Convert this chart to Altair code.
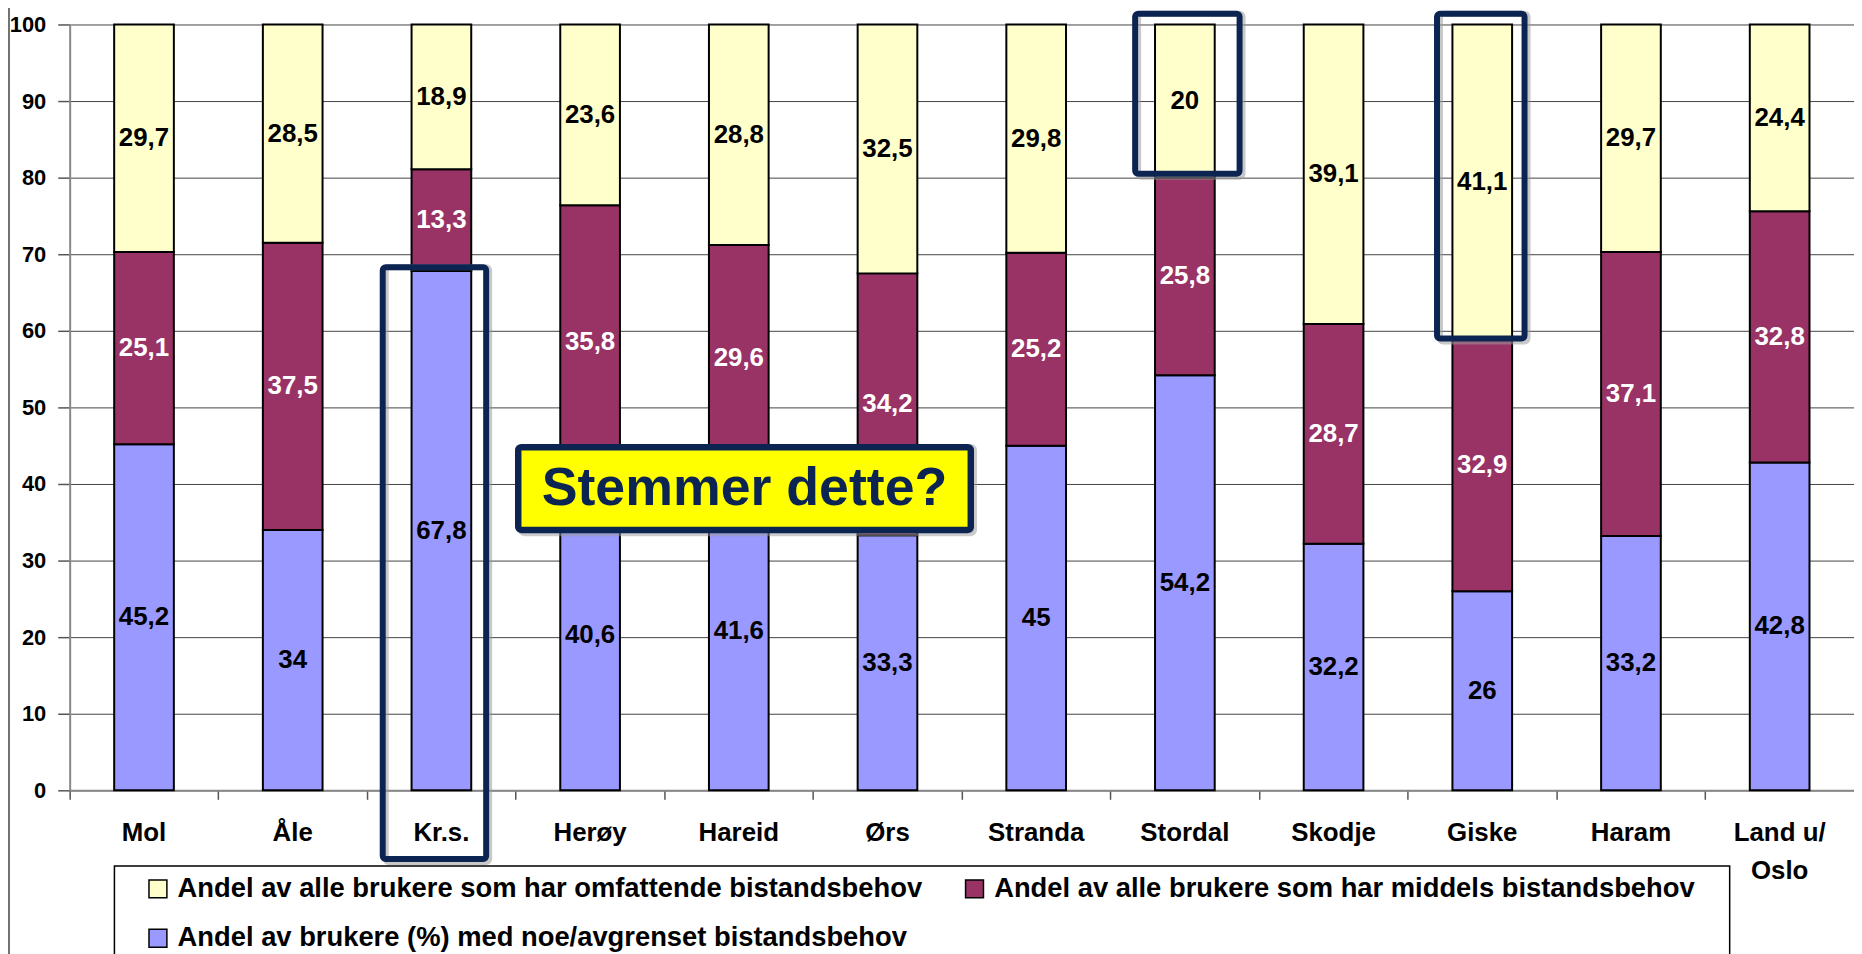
import altair as alt
import pandas as pd

# ---------------- data ----------------
categories = ["Mol", "Åle", "Kr.s.", "Herøy", "Hareid", "Ørs", "Stranda",
              "Stordal", "Skodje", "Giske", "Haram", "Land u/ Oslo"]
x_labels = ["Mol", "Åle", "Kr.s.", "Herøy", "Hareid", "Ørs", "Stranda",
            "Stordal", "Skodje", "Giske", "Haram", "Land u/\nOslo"]
noe = [45.2, 34, 67.8, 40.6, 41.6, 33.3, 45, 54.2, 32.2, 26, 33.2, 42.8]
middels = [25.1, 37.5, 13.3, 35.8, 29.6, 34.2, 25.2, 25.8, 28.7, 32.9, 37.1, 32.8]
omfattende = [29.7, 28.5, 18.9, 23.6, 28.8, 32.5, 29.8, 20, 39.1, 41.1, 29.7, 24.4]

series_names = [
    "Andel av alle brukere som har omfattende bistandsbehov",
    "Andel av alle brukere som har middels bistandsbehov",
    "Andel av brukere (%) med noe/avgrenset bistandsbehov",
]
series_colors = ["#FFFFCC", "#993366", "#9999FF"]
label_colors = ["black", "white", "black"]
y_ticks = [0, 10, 20, 30, 40, 50, 60, 70, 80, 90, 100]

# highlight boxes (category, lower value, upper value, width px, x shift px)
box_cats = ["Kr.s.", "Stordal", "Giske"]
box_lo = [-8.96, 80.5, 59.0]
box_hi = [68.3, 101.4, 101.4]
box_w = [104, 105, 88]
box_dx = [-7, 2.5, -1.5]

callout_text = "Stemmer dette?"
callout_cat = "Hareid"
callout_lo, callout_hi, callout_mid = 34.0, 44.8, 39.4

# ---------------- styling ----------------
FONT = "Liberation Sans, Arial, sans-serif"
NAVY = "#0C2452"
W, H = 1794, 770

# ---------------- build table ----------------
rows = []
stack_order = [(2, noe), (1, middels), (0, omfattende)]  # bottom -> top
for i, cat in enumerate(categories):
    base = 0.0
    for s_idx, vals in stack_order:
        v = vals[i]
        rows.append({
            "cat": cat,
            "series": series_names[s_idx],
            "y0": base,
            "y1": base + v,
            "mid": base + v / 2,
            "label": f"{v:g}".replace(".", ","),
            "tcolor": label_colors[s_idx],
        })
        base += v
df = pd.DataFrame(rows)

x_scale = alt.Scale(domain=categories, paddingInner=0, paddingOuter=0)
y_scale = alt.Scale(domain=[0, 100], nice=False, zero=False)

x_axis = alt.Axis(title=None, labels=False, bandPosition=0, ticks=True,
                  tickSize=9, tickColor="#555", tickWidth=1.5,
                  domainColor="#888", domainWidth=2, grid=False)
y_axis = alt.Axis(title=None, values=y_ticks, labelFont=FONT,
                  labelFontSize=22, labelFontWeight="bold",
                  labelColor="black", labelPadding=12, tickSize=12,
                  tickColor="#555", tickWidth=1.5,
                  domainColor="#888", domainWidth=2,
                  grid=True, gridColor="#444", gridWidth=1)


def X():
    return alt.X("cat:N", scale=x_scale, sort=categories, axis=x_axis)


def Y(field):
    return alt.Y(field, scale=y_scale, axis=y_axis)


bars = alt.Chart(df).mark_bar(width=60, stroke="black", strokeWidth=2).encode(
    x=X(),
    y=Y("y0:Q"),
    y2="y1:Q",
    color=alt.Color(
        "series:N",
        scale=alt.Scale(domain=series_names, range=series_colors),
        legend=alt.Legend(
            title=None, orient="none", legendX=75, legendY=855, columns=2,
            direction="horizontal",
            columnPadding=38, rowPadding=21, symbolType="square",
            symbolSize=324, symbolStrokeColor="black", symbolStrokeWidth=1.5,
            symbolOpacity=1, labelFont=FONT, labelFontSize=27.5,
            labelFontWeight="bold", labelColor="black", labelLimit=1200,
            labelOffset=6, padding=0,
        ),
    ),
)

bar_labels = alt.Chart(df).mark_text(
    font=FONT, fontSize=26, fontWeight="bold", baseline="middle"
).encode(
    x=X(),
    y=Y("mid:Q"),
    text="label:N",
    color=alt.Color("tcolor:N", scale=None),
)

xlab_df = pd.DataFrame({"cat": categories, "lab": x_labels})
x_text = alt.Chart(xlab_df).mark_text(
    font=FONT, fontSize=26, fontWeight="bold", baseline="alphabetic",
    lineBreak="\n", lineHeight=38, color="black"
).encode(x=X(), y=alt.value(H + 51), text="lab:N")

layers = [bars, bar_labels, x_text]

for c, lo, hi, w, dx in zip(box_cats, box_lo, box_hi, box_w, box_dx):
    bdf = pd.DataFrame({"cat": [c], "y0": [lo], "y1": [hi]})
    shadow = alt.Chart(bdf).mark_bar(
        width=w, xOffset=dx + 3, yOffset=3, fillOpacity=0, stroke="#9a9a9a",
        strokeOpacity=0.55, strokeWidth=6, cornerRadius=3
    ).encode(x=X(), y=Y("y0:Q"), y2="y1:Q")
    box = alt.Chart(bdf).mark_bar(
        width=w, xOffset=dx, fillOpacity=0, stroke=NAVY, strokeWidth=6,
        cornerRadius=3
    ).encode(x=X(), y=Y("y0:Q"), y2="y1:Q")
    layers += [shadow, box]

cdf = pd.DataFrame({"cat": [callout_cat], "y0": [callout_lo], "y1": [callout_hi],
                    "mid": [callout_mid], "txt": [callout_text]})
callout_shadow = alt.Chart(cdf).mark_bar(
    width=455, xOffset=5.75 + 3, yOffset=3, fill="#9a9a9a", fillOpacity=0.5,
    stroke="#9a9a9a", strokeOpacity=0.5, strokeWidth=6.5, cornerRadius=3
).encode(x=X(), y=Y("y0:Q"), y2="y1:Q")
callout_box = alt.Chart(cdf).mark_bar(
    width=455, xOffset=5.75, fill="#FFFF00", stroke=NAVY, strokeWidth=6.5,
    cornerRadius=3
).encode(x=X(), y=Y("y0:Q"), y2="y1:Q")
callout_txt = alt.Chart(cdf).mark_text(
    xOffset=5.75, font=FONT, fontSize=54, fontWeight="bold", color=NAVY,
    baseline="middle", dy=1
).encode(x=X(), y=Y("mid:Q"), text="txt:N")
layers += [callout_shadow, callout_box, callout_txt]

dummy = pd.DataFrame({"a": [0]})
frame_left = alt.Chart(dummy).mark_rule(color="#444", strokeWidth=1.5).encode(
    x=alt.value(-61), y=alt.value(-20), y2=alt.value(H + 200))
legend_frame = alt.Chart(dummy).mark_rect(
    fillOpacity=0, stroke="black", strokeWidth=1.5
).encode(x=alt.value(45), x2=alt.value(1669), y=alt.value(846), y2=alt.value(H + 300))
layers = layers[:1] + [frame_left, legend_frame] + layers[1:]

chart = alt.layer(*layers).properties(
    width=W, height=H,
    padding={"left": 62, "top": 14, "right": 0, "bottom": 162},
    autosize="none",
    background="white",
).configure_view(stroke=None)

chart.save("out.html", embed_options={"renderer": "svg", "actions": False})
